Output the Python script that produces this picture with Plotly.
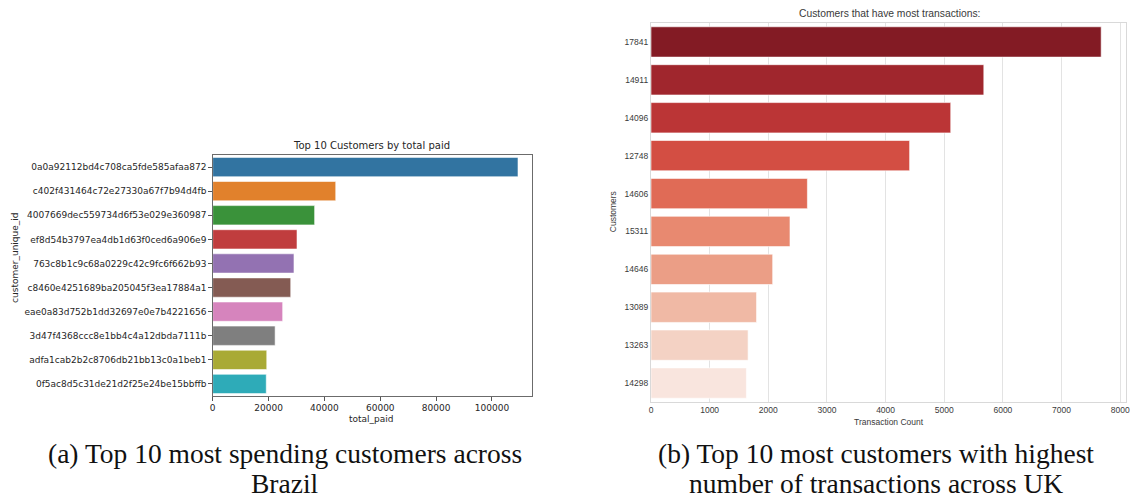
import plotly.graph_objects as go

# Brazil: top 10 customers by total paid
br_customers = [
    "0a0a92112bd4c708ca5fde585afaa872",
    "c402f431464c72e27330a67f7b94d4fb",
    "4007669dec559734d6f53e029e360987",
    "ef8d54b3797ea4db1d63f0ced6a906e9",
    "763c8b1c9c68a0229c42c9fc6f662b93",
    "c8460e4251689ba205045f3ea17884a1",
    "eae0a83d752b1dd32697e0e7b4221656",
    "3d47f4368ccc8e1bb4c4a12dbda7111b",
    "adfa1cab2b2c8706db21bb13c0a1beb1",
    "0f5ac8d5c31de21d2f25e24be15bbffb",
]
br_total_paid = [109312, 44048, 36490, 30186, 29099, 27935, 25051, 22346, 19352, 19174]
br_colors = ["#3274a1", "#e1812c", "#3a923a", "#c03d3e", "#9372b2",
             "#845b53", "#d684bd", "#7f7f7f", "#a9aa35", "#2eabb8"]
br_ticks = [0, 20000, 40000, 60000, 80000, 100000]

# UK: customers with the most transactions
uk_customers = ["17841", "14911", "14096", "12748", "14606",
                "15311", "14646", "13089", "13263", "14298"]
uk_counts = [7676, 5675, 5111, 4410, 2667, 2370, 2075, 1800, 1656, 1627]
uk_colors = ["#831b24", "#a0262d", "#bb3536", "#d34e43", "#e06b56",
             "#e88970", "#eb9e86", "#f0b9a5", "#f4d2c4", "#f9e5de"]
uk_ticks = [0, 1000, 2000, 3000, 4000, 5000, 6000, 7000, 8000]

W, H = 1137, 501


def fx(px):
    return px / W


def fy(py):
    return 1 - py / H


def label(text, x, y, font, **kw):
    return dict(text=text, x=fx(x), y=fy(y), xref="paper", yref="paper",
                showarrow=False, xanchor="center", yanchor="middle",
                font=font, **kw)


fig = go.Figure()

fig.add_trace(go.Bar(
    x=br_total_paid, y=br_customers, orientation="h",
    marker=dict(color=br_colors, line=dict(color="rgba(255,255,255,0.55)", width=1)),
    width=0.8, xaxis="x", yaxis="y", showlegend=False,
))

fig.add_trace(go.Bar(
    x=uk_counts, y=uk_customers, orientation="h",
    marker=dict(color=uk_colors, line=dict(color="rgba(255,255,255,0.6)", width=1)),
    width=0.8, xaxis="x2", yaxis="y2", showlegend=False,
))

mpl_font = dict(family="DejaVu Sans", size=9, color="#262626")
sns_font = dict(family="Liberation Sans, Arial", size=8.5, color="#3a3a3a")
cap_font = dict(family="Liberation Serif", size=27.5, color="#111")

fig.update_layout(
    width=W, height=H,
    margin=dict(l=0, r=0, t=0, b=0),
    paper_bgcolor="white", plot_bgcolor="white",
    xaxis=dict(
        domain=[fx(211), fx(532)], anchor="y",
        range=[0, max(br_total_paid) * 1.045],
        tickvals=br_ticks, ticktext=[str(t) for t in br_ticks],
        ticks="outside", ticklen=3.5, tickcolor="#555", tickwidth=0.8,
        showline=True, linecolor="#6b6b6b", linewidth=1, mirror=True,
        showgrid=False, zeroline=False, tickfont=mpl_font,
    ),
    yaxis=dict(
        domain=[fy(396), fy(155)], anchor="x",
        type="category", categoryorder="array", categoryarray=br_customers,
        autorange="reversed",
        ticks="outside", ticklen=3.5, tickcolor="#555", tickwidth=0.8,
        showline=True, linecolor="#6b6b6b", linewidth=1, mirror=True,
        showgrid=False, zeroline=False, tickfont=mpl_font,
    ),
    xaxis2=dict(
        domain=[fx(652), fx(1130)], anchor="y2",
        range=[0, 8100],
        tickvals=uk_ticks, ticktext=[str(t) for t in uk_ticks],
        ticks="", showline=True, linecolor="#d9d9d9", linewidth=1.2, mirror=True,
        showgrid=True, gridcolor="#e3e3e3", gridwidth=1.4, zeroline=False,
        tickfont=sns_font,
    ),
    yaxis2=dict(
        domain=[fy(402), fy(23)], anchor="x2",
        type="category", categoryorder="array", categoryarray=uk_customers,
        autorange="reversed",
        ticks="", showline=True, linecolor="#d9d9d9", linewidth=1.2, mirror=True,
        showgrid=False, zeroline=False, tickfont=sns_font,
    ),
    annotations=[
        label("Top 10 Customers by total paid", 371, 146,
              dict(family="DejaVu Sans", size=10, color="#262626")),
        label("total_paid", 371, 419, mpl_font),
        label("customer_unique_id", 12, 258, mpl_font, textangle=-90),
        label("Customers that have most transactions:", 892, 14,
              dict(family="Liberation Sans, Arial", size=10.3, color="#3a3a3a")),
        label("Transaction Count", 891, 422, sns_font),
        label("Customers", 614, 212, sns_font, textangle=-90),
        label("(a) Top 10 most spending customers across", 284, 453, cap_font),
        label("Brazil", 284, 483, cap_font),
        label("(b) Top 10 most customers with highest", 878, 453, cap_font),
        label("number of transactions across UK", 878, 483, cap_font),
    ],
)

fig.write_html("out.html")
